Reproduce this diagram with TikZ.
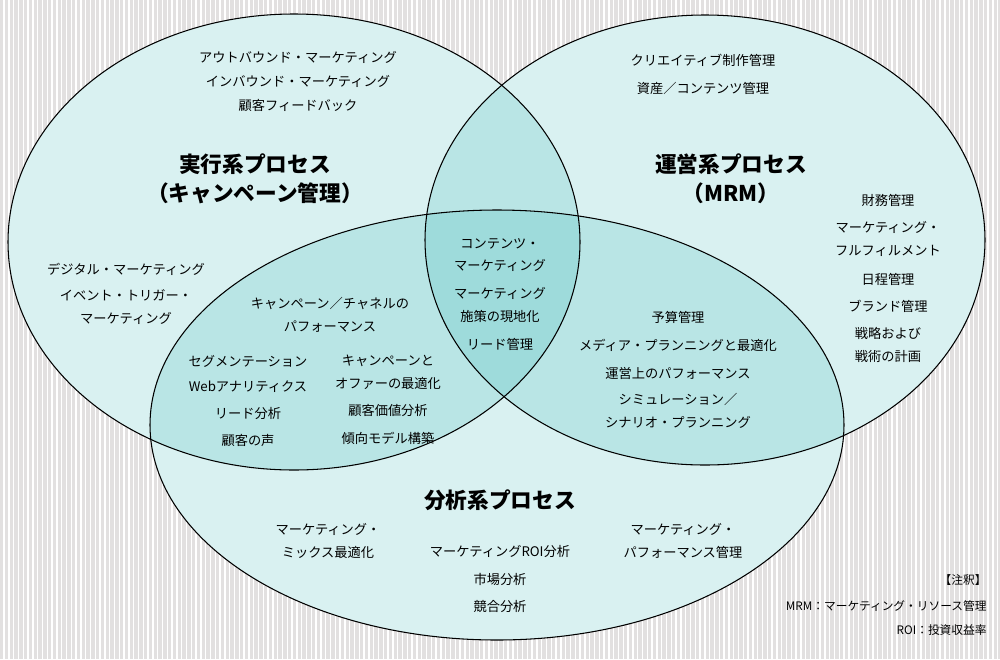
\documentclass[tikz,border=0pt]{standalone}
\usepackage{fontspec}
\setmainfont{Noto Sans CJK JP}
\definecolor{stripe}{RGB}{226,224,224}
\definecolor{tealc}{RGB}{22,168,168}
\begin{document}
\begin{tikzpicture}[x=0.03cm,y=-0.03cm,
  lbl/.style={font=\fontsize{11.3pt}{19.5pt}\selectfont,align=center,inner sep=1pt},
  ttl/.style={font=\fontsize{18.5pt}{25pt}\selectfont\bfseries,align=center,inner sep=1pt},
  note/.style={font=\fontsize{10pt}{12pt}\selectfont,anchor=east,inner sep=1pt},
  ell/.style={draw=black,line width=0.9pt}]
\useasboundingbox (0,0) rectangle (1000,659);
\fill[white] (0,0) rectangle (1000,659);
\foreach \i in {0,...,208}{\fill[stripe] (\i*4.8,0) rectangle (\i*4.8+3.3,659);}
% white bases
\fill[white] (294,242) ellipse [x radius=286,y radius=228];
\fill[white] (705,240) ellipse [x radius=280,y radius=225];
\fill[white] (497,425) ellipse [x radius=347,y radius=215];
% tinted layers
\fill[tealc,opacity=0.16] (294,242) ellipse [x radius=286,y radius=228];
\fill[tealc,opacity=0.16] (705,240) ellipse [x radius=280,y radius=225];
\fill[tealc,opacity=0.16] (497,425) ellipse [x radius=347,y radius=215];
\draw[ell] (294,242) ellipse [x radius=286,y radius=228];
\draw[ell] (705,240) ellipse [x radius=280,y radius=225];
\draw[ell] (497,425) ellipse [x radius=347,y radius=215];
% left
\node[lbl] (l1) at (298,57) {アウトバウンド・マーケティング};
\node[lbl] (l2) at (298,81) {インバウンド・マーケティング};
\node[lbl] (l3) at (298,105) {顧客フィードバック};
\node[ttl] (t1) at (255,179) {実行系プロセス\\（キャンペーン管理）};
\node[lbl] (l4) at (126,269) {デジタル・マーケティング};
\node[lbl] (l5) at (126,307) {イベント・トリガー・\\マーケティング};
% right
\node[lbl] (r1) at (703,60) {クリエイティブ制作管理};
\node[lbl] (r2) at (703,88) {資産／コンテンツ管理};
\node[ttl] (t2) at (731,179) {運営系プロセス\\（MRM）};
\node[lbl] (r3) at (888,200) {財務管理};
\node[lbl] (r4) at (888,239) {マーケティング・\\フルフィルメント};
\node[lbl] (r5) at (888,279) {日程管理};
\node[lbl] (r6) at (888,306) {ブランド管理};
\node[lbl] (r7) at (888,345) {戦略および\\戦術の計画};
% center
\node[lbl] (c1) at (500,255) {コンテンツ・\\マーケティング};
\node[lbl] (c2) at (500,305) {マーケティング\\施策の現地化};
\node[lbl] (c3) at (500,344) {リード管理};
% left-bottom
\node[lbl] (lb1) at (330,315) {キャンペーン／チャネルの\\パフォーマンス};
\node[lbl] (lb2) at (248,361) {セグメンテーション};
\node[lbl] (lb3) at (248,387) {Webアナリティクス};
\node[lbl] (lb4) at (248,413) {リード分析};
\node[lbl] (lb5) at (248,440) {顧客の声};
\node[lbl] (lb6) at (388,372) {キャンペーンと\\オファーの最適化};
\node[lbl] (lb7) at (388,410) {顧客価値分析};
\node[lbl] (lb8) at (388,438) {傾向モデル構築};
% right-bottom
\node[lbl] (rb1) at (678,317) {予算管理};
\node[lbl] (rb2) at (678,345) {メディア・プランニングと最適化};
\node[lbl] (rb3) at (678,373) {運営上のパフォーマンス};
\node[lbl] (rb4) at (678,411) {シミュレーション／\\シナリオ・プランニング};
% bottom
\node[ttl] (t3) at (500,500) {分析系プロセス};
\node[lbl] (b1) at (328,541) {マーケティング・\\ミックス最適化};
\node[lbl] (b2) at (500,551) {マーケティングROI分析};
\node[lbl] (b3) at (500,579) {市場分析};
\node[lbl] (b4) at (500,606) {競合分析};
\node[lbl] (b5) at (683,541) {マーケティング・\\パフォーマンス管理};
% notes
\node[note] (n1) at (988,580) {【注釈】};
\node[note] (n2) at (988,606) {MRM：マーケティング・リソース管理};
\node[note] (n3) at (988,630) {ROI：投資収益率};
\end{tikzpicture}
\end{document}
